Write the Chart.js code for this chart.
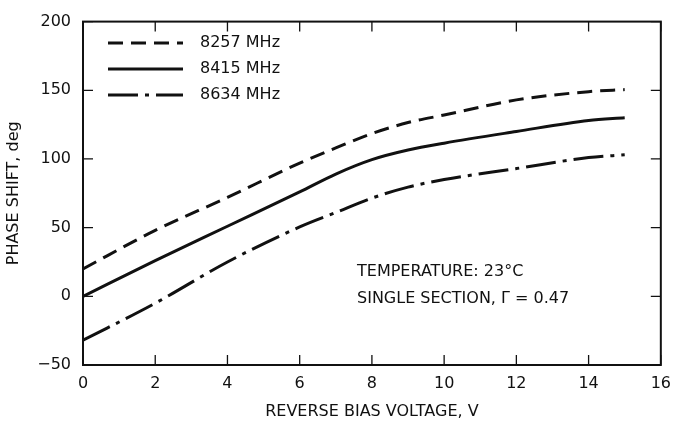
<!DOCTYPE html>
<html>
<head>
<meta charset="utf-8">
<script src="https://cdn.jsdelivr.net/npm/chart.js@4"></script>
<style>
  body { margin: 0; background: #fff; }
  #wrap { width: 680px; height: 425px; }
</style>
</head>
<body>
<div id="wrap"><canvas id="c" width="680" height="425"></canvas></div>
<script>
// values (bias voltage in V, phase shift in deg)
const voltages = [0, 2, 4, 6, 7, 8, 9, 10, 12, 14, 15];
const shift8257 = [20, 48, 72, 97, 108, 118.5, 126.5, 132, 143, 149, 150.5];
const shift8415 = [0, 26, 51, 76, 89, 99.5, 106.5, 111.5, 120, 128, 130];
const shift8634 = [-32, -5, 25, 50.5, 61, 71.5, 79.5, 85, 93, 101, 103];
const seriesLabels = ['8257 MHz', '8415 MHz', '8634 MHz'];
const xTicks = [0, 2, 4, 6, 8, 10, 12, 14, 16];
const yTicks = [-50, 0, 50, 100, 150, 200];
const notes = ['TEMPERATURE: 23\u00B0C', 'SINGLE SECTION, \u0393 = 0.47'];

const FONT = '"DejaVu Sans", Verdana, sans-serif';
const INK = '#111';

const toPts = ys => voltages.map((v, i) => ({ x: v, y: ys[i] }));

const dashes = [[15, 8], [], [30, 7, 4, 7]];

// inward ticks on all four sides, plus top/right frame
const frame = {
  id: 'frame',
  afterDraw(chart) {
    const { ctx, chartArea: a, scales } = chart;
    ctx.save();
    ctx.strokeStyle = INK;
    ctx.lineWidth = 2;
    ctx.strokeRect(a.left, a.top, a.right - a.left, a.bottom - a.top);
    ctx.lineWidth = 1.3;
    const len = 10;
    xTicks.forEach(t => {
      const px = scales.x.getPixelForValue(t);
      ctx.beginPath();
      ctx.moveTo(px, a.bottom); ctx.lineTo(px, a.bottom - len);
      ctx.moveTo(px, a.top); ctx.lineTo(px, a.top + len);
      ctx.stroke();
    });
    yTicks.forEach(t => {
      const py = scales.y.getPixelForValue(t);
      ctx.beginPath();
      ctx.moveTo(a.left, py); ctx.lineTo(a.left + len, py);
      ctx.moveTo(a.right, py); ctx.lineTo(a.right - len, py);
      ctx.stroke();
    });
    ctx.restore();
  }
};

// legend drawn inside the plot, top-left, and the two note lines
const innerLegend = {
  id: 'innerLegend',
  afterDatasetsDraw(chart) {
    const { ctx } = chart;
    ctx.save();
    ctx.font = '16px ' + FONT;
    ctx.textBaseline = 'middle';
    chart.data.datasets.forEach((ds, i) => {
      const y = 43 + i * 26;
      ctx.strokeStyle = ds.borderColor;
      ctx.lineWidth = ds.borderWidth;
      ctx.setLineDash(ds.borderDash || []);
      ctx.beginPath();
      ctx.moveTo(108, y); ctx.lineTo(183, y);
      ctx.stroke();
      ctx.setLineDash([]);
      ctx.fillStyle = INK;
      ctx.fillText(ds.label, 200, y);
    });
    notes.forEach((n, i) => ctx.fillText(n, 357, 272 + i * 27));
    ctx.restore();
  }
};

new Chart(document.getElementById('c'), {
  type: 'line',
  data: {
    datasets: [shift8257, shift8415, shift8634].map((ys, i) => ({
      label: seriesLabels[i],
      data: toPts(ys),
      borderColor: INK,
      borderWidth: 3,
      borderDash: dashes[i],
      pointRadius: 0,
      cubicInterpolationMode: 'monotone',
      fill: false,
    })),
  },
  options: {
    responsive: false,
    animation: false,
    layout: { padding: { top: 13, right: 7, left: 0, bottom: 0 } },
    plugins: { legend: { display: false }, tooltip: { enabled: false } },
    scales: {
      x: {
        type: 'linear', min: 0, max: 16,
        afterBuildTicks: s => { s.ticks = xTicks.map(v => ({ value: v })); },
        afterFit: s => { s.height = 60; },
        grid: { drawOnChartArea: false, drawTicks: false },
        border: { display: false },
        ticks: { color: INK, font: { family: FONT, size: 16 }, padding: 9 },
        title: { display: true, text: 'REVERSE BIAS VOLTAGE, V', color: INK, font: { family: FONT, size: 16 }, padding: { top: 10 } },
      },
      y: {
        type: 'linear', min: -50, max: 200,
        afterBuildTicks: s => { s.ticks = yTicks.map(v => ({ value: v })); },
        afterFit: s => { s.width = 83; },
        grid: { drawOnChartArea: false, drawTicks: false },
        border: { display: false },
        ticks: {
          color: INK, font: { family: FONT, size: 16 }, padding: 12,
          callback: v => String(v).replace('-', '\u2212'),
        },
        title: { display: true, text: 'PHASE SHIFT, deg', color: INK, font: { family: FONT, size: 16 }, padding: { bottom: 0 } },
      },
    },
  },
  plugins: [frame, innerLegend],
});
</script>
</body>
</html>
